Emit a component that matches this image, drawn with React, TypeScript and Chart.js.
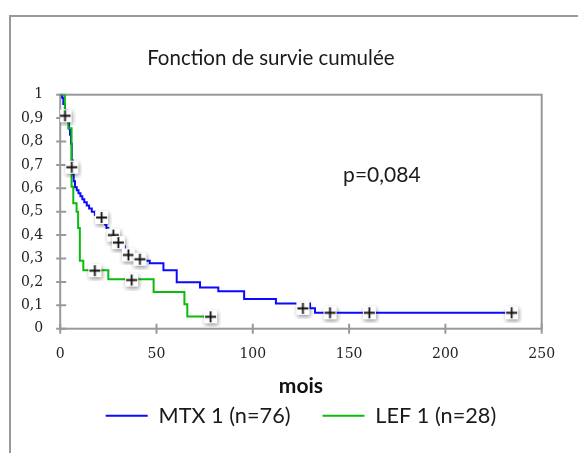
import { useEffect, useRef } from 'react';
import { Chart, registerables } from 'chart.js';

Chart.register(...registerables);

const TITLE = 'Fonction de survie cumulée';
const X_TITLE = 'mois';
const P_TEXT = 'p=0,084';
const P_ANCHOR_X = 167;
const P_ANCHOR_Y = 0.655;
const SERIES_LABELS = ['MTX 1 (n=76)', 'LEF 1 (n=28)'];
const X_TICKS = [0, 50, 100, 150, 200, 250];
const Y_TICK_LABELS = ['0', '0,1', '0,2', '0,3', '0,4', '0,5', '0,6', '0,7', '0,8', '0,9', '1'];

// MTX 1 : Kaplan-Meier steps (time in months, cumulative survival after the step)
const mtxTimes = [0, 1, 1.6, 2.5, 3.4, 4.2, 4.6, 5.1, 5.6, 6, 6.4, 7, 7.7, 8.6, 9.5, 10.5, 11.5, 12.5, 13.8, 15, 16.4, 18, 20, 22.5, 23.3, 24, 25, 26.5, 29, 30.5, 32, 33.5, 34.5, 38, 43, 46.5, 53.6, 60.5, 72.6, 82.1, 95.5, 112, 129.7, 132.3, 237];
const mtxSurv = [1, 0.987, 0.96, 0.934, 0.908, 0.882, 0.855, 0.829, 0.79, 0.72, 0.66, 0.63, 0.605, 0.592, 0.579, 0.566, 0.553, 0.54, 0.527, 0.514, 0.5, 0.487, 0.474, 0.46, 0.445, 0.43, 0.415, 0.4, 0.385, 0.37, 0.352, 0.336, 0.32, 0.303, 0.29, 0.28, 0.25, 0.198, 0.176, 0.16, 0.127, 0.108, 0.087, 0.068, 0.068];

// LEF 1
const lefTimes = [0, 2.4, 4.2, 5.9, 6.8, 8.5, 9.3, 10.2, 12, 25, 48.5, 64.5, 66, 78];
const lefSurv = [1, 0.893, 0.857, 0.607, 0.536, 0.5, 0.43, 0.29, 0.25, 0.211, 0.157, 0.105, 0.052, 0.052];

// censored observations (+)
const censorTimes = [2.5, 6, 21.5, 27.6, 30.2, 35.4, 41.4, 18, 37.1, 78.1, 126, 140.1, 160.5, 234.4];
const censorSurv = [0.91, 0.69, 0.475, 0.4, 0.368, 0.315, 0.297, 0.248, 0.208, 0.051, 0.087, 0.068, 0.068, 0.068];

const BLUE = '#0a0aff';
const GREEN = '#0cbb0c';
const AXIS = '#999999';
const TEXT_FONT = 'Lato';

function makeMarker(): HTMLCanvasElement {
  const c = document.createElement('canvas');
  c.width = 21;
  c.height = 21;
  const g = c.getContext('2d')!;
  g.save();
  g.shadowColor = 'rgba(0,0,0,0.4)';
  g.shadowBlur = 4;
  g.shadowOffsetX = 1;
  g.shadowOffsetY = 2;
  g.fillStyle = '#ffffff';
  g.fillRect(4, 4, 13, 13);
  g.restore();
  g.strokeStyle = '#111111';
  g.lineWidth = 1.8;
  g.beginPath();
  g.moveTo(5, 10.5);
  g.lineTo(16, 10.5);
  g.moveTo(10.5, 5);
  g.lineTo(10.5, 16);
  g.stroke();
  return c;
}

const framePlugin = {
  id: 'kmFrame',
  beforeDatasetsDraw(chart: any) {
    const { ctx, chartArea: a, scales } = chart;
    const x = scales.x;
    const y = scales.y;
    ctx.save();
    ctx.strokeStyle = AXIS;
    ctx.lineWidth = 2;
    ctx.strokeRect(a.left, a.top, a.right - a.left, a.bottom - a.top);
    ctx.beginPath();
    Y_TICK_LABELS.forEach((_, i) => {
      const py = y.getPixelForValue(i / 10);
      ctx.moveTo(a.left - 4, py);
      ctx.lineTo(a.left + 6, py);
    });
    X_TICKS.forEach((v) => {
      const px = x.getPixelForValue(v);
      ctx.moveTo(px, a.bottom - 5);
      ctx.lineTo(px, a.bottom + 5);
    });
    ctx.stroke();
    ctx.restore();
  },
  afterDatasetsDraw(chart: any) {
    const { ctx, scales } = chart;
    ctx.save();
    ctx.font = `21px ${TEXT_FONT}`;
    ctx.fillStyle = '#1a1a1a';
    ctx.textAlign = 'center';
    ctx.textBaseline = 'middle';
    ctx.fillText(P_TEXT, scales.x.getPixelForValue(P_ANCHOR_X), scales.y.getPixelForValue(P_ANCHOR_Y));
    ctx.restore();
  },
};

export default function App() {
  const ref = useRef<HTMLCanvasElement>(null);

  useEffect(() => {
    if (!ref.current) return;
    const marker = makeMarker();
    const chart = new Chart(ref.current, {
      type: 'line',
      data: {
        datasets: [
          {
            label: SERIES_LABELS[0],
            data: mtxTimes.map((t, i) => ({ x: t, y: mtxSurv[i] })),
            borderColor: BLUE,
            backgroundColor: BLUE,
            borderWidth: 2,
            stepped: 'before',
            pointRadius: 0,
            pointHoverRadius: 0,
            order: 2,
          },
          {
            label: SERIES_LABELS[1],
            data: lefTimes.map((t, i) => ({ x: t, y: lefSurv[i] })),
            borderColor: GREEN,
            backgroundColor: GREEN,
            borderWidth: 2,
            stepped: 'before',
            pointRadius: 0,
            pointHoverRadius: 0,
            order: 1,
          },
          {
            type: 'scatter',
            label: 'censure',
            data: censorTimes.map((t, i) => ({ x: t, y: censorSurv[i] })),
            pointStyle: marker as any,
            pointRadius: 6,
            pointHoverRadius: 6,
            showLine: false,
            order: 0,
          } as any,
        ],
      },
      options: {
        animation: false,
        responsive: false,
        devicePixelRatio: 1,
        layout: { padding: { left: 0, right: 36.3, top: 0, bottom: 16.3 } },
        plugins: {
          tooltip: { enabled: false },
          title: {
            display: true,
            text: TITLE,
            color: '#1a1a1a',
            font: { family: TEXT_FONT, size: 20.5, weight: 'normal' },
            padding: { top: 46.4, bottom: 23.7 },
          },
          legend: {
            position: 'bottom',
            fullSize: false,
            labels: {
              boxWidth: 42,
              boxHeight: 0,
              padding: 32,
              color: '#1a1a1a',
              font: { family: TEXT_FONT, size: 21.7 },
              filter: (item: any) => item.datasetIndex < 2,
              sort: (a: any, b: any) => a.datasetIndex - b.datasetIndex,
            },
          },
        },
        scales: {
          x: {
            type: 'linear',
            min: 0,
            max: 250,
            grid: { display: false, drawTicks: false },
            border: { display: false },
            ticks: {
              stepSize: 50,
              padding: 17,
              color: '#222222',
              font: { family: 'DejaVu Serif', size: 14 },
            },
            title: {
              display: true,
              text: X_TITLE,
              color: '#111111',
              font: { family: TEXT_FONT, size: 21, weight: 'bold' },
              padding: { top: 0, bottom: -26.3 },
            },
            afterFit: (s: any) => {
              s.height = 44.3;
            },
          },
          y: {
            type: 'linear',
            min: 0,
            max: 1,
            grid: { display: false, drawTicks: false },
            border: { display: false },
            ticks: {
              stepSize: 0.1,
              padding: 17,
              color: '#222222',
              font: { family: 'DejaVu Serif', size: 14 },
              callback: (_v: any, i: number) => Y_TICK_LABELS[i],
            },
            afterFit: (s: any) => {
              s.width = 60.2;
            },
          },
        },
      },
      plugins: [framePlugin],
    });
    return () => chart.destroy();
  }, []);

  return (
    <div style={{ position: 'fixed', left: 0, top: 0, width: 578, height: 453, overflow: 'hidden', background: '#ffffff' }}>
      <div
        style={{
          position: 'absolute',
          left: 9,
          top: 15,
          width: 700,
          height: 600,
          borderLeft: `2px solid ${AXIS}`,
          borderTop: `2px solid ${AXIS}`,
        }}
      />
      <canvas ref={ref} width={578} height={453} style={{ position: 'absolute', left: 0, top: 0, width: 578, height: 453 }} />
    </div>
  );
}
